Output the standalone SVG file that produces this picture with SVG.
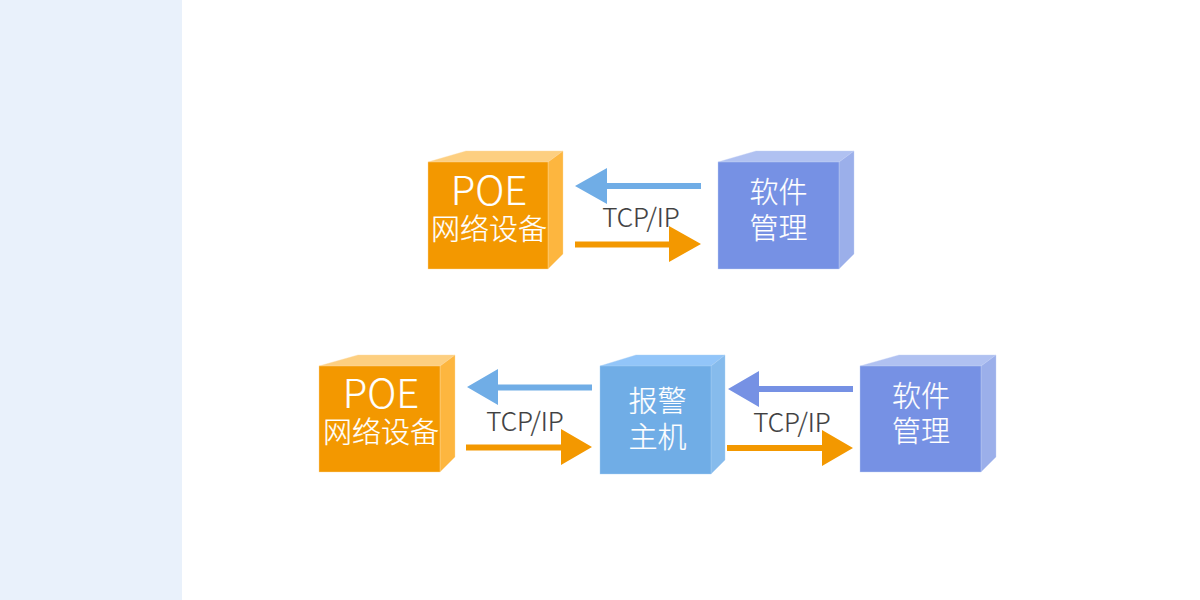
<svg xmlns="http://www.w3.org/2000/svg" width="1200" height="600" viewBox="0 0 1200 600">
<style>
.t{font-family:"Noto Sans CJK SC","Noto Sans",sans-serif;fill:#fff;stroke:#fff;stroke-width:.2;text-anchor:middle}
.big{font-size:40px;font-weight:300}
.cn{font-size:29px;font-weight:300}
.lbl{font-family:"Noto Sans CJK SC","Noto Sans",sans-serif;font-size:26px;font-weight:300;fill:#404040;stroke:#404040;stroke-width:.2;text-anchor:middle}
.o{stroke:#fdd9a0;stroke-width:.4}
.b{stroke:#c3d0f5;stroke-width:.4}
.h{stroke:#a9d0f6;stroke-width:.4}
</style>
<rect x="0" y="0" width="182" height="600" fill="#e9f1fb"/>
<g id="connectors">
<path fill="#70ade6" d="M701 183H607V168L575 186L607 204V189H701Z"/>
<path fill="#f39800" d="M575 241.500H669V226L701 244L669 262V247.500H575Z"/>
<path fill="#70ade6" d="M592 384.500H498V369L467 387L498 405V390.500H592Z"/>
<path fill="#f39800" d="M466 444.500H561V429L592 447L561 465V450.500H466Z"/>
<path fill="#7691e4" d="M853 386H759V371L728 389L759 407V392H853Z"/>
<path fill="#f39800" d="M727 445H822V430L853 448L822 466V451H727Z"/>
</g>
<g id="poe-1">
<path class="o" fill="#fdcf80" d="M428 162L466 151H563L548 162Z"/>
<path class="o" fill="#fdb63f" d="M548 162L563 151V254L548 269Z"/>
<rect class="o" x="428" y="162" width="120" height="107" fill="#f39800"/>
<text class="t big" x="489" y="205">POE</text>
<text class="t cn" x="489" y="240">网络设备</text>
</g>
<g id="software-1">
<path class="b" fill="#b0c1f1" d="M718 162L756 151H854L839 162Z"/>
<path class="b" fill="#9bafea" d="M839 162L854 151V254L839 269Z"/>
<rect class="b" x="718" y="162" width="121" height="107" fill="#7691e4"/>
<text class="t cn" x="778.500" y="203">软件</text>
<text class="t cn" x="778.500" y="239">管理</text>
</g>
<g id="poe-2">
<path class="o" fill="#fdcf80" d="M319 366L358 355H455L440 366Z"/>
<path class="o" fill="#fdb63f" d="M440 366L455 355V457L440 472Z"/>
<rect class="o" x="319" y="366" width="121" height="106" fill="#f39800"/>
<text class="t big" x="381" y="408">POE</text>
<text class="t cn" x="381" y="443">网络设备</text>
</g>
<g id="alarm-host">
<path class="h" fill="#92c5f9" d="M600 366L636 355H725L711 366Z"/>
<path class="h" fill="#86bbec" d="M711 366L725 355V460L711 474Z"/>
<rect class="h" x="600" y="366" width="111" height="108" fill="#70ade6"/>
<text class="t cn" x="657.500" y="412">报警</text>
<text class="t cn" x="657.500" y="448">主机</text>
</g>
<g id="software-2">
<path class="b" fill="#b0c1f1" d="M860 366L899 355H996L981 366Z"/>
<path class="b" fill="#9bafea" d="M981 366L996 355V457L981 472Z"/>
<rect class="b" x="860" y="366" width="121" height="106" fill="#7691e4"/>
<text class="t cn" x="921" y="407">软件</text>
<text class="t cn" x="921" y="442">管理</text>
</g>
<g id="labels">
<text class="lbl" x="641" y="227">TCP/IP</text>
<text class="lbl" x="525" y="431">TCP/IP</text>
<text class="lbl" x="792" y="432">TCP/IP</text>
</g>
</svg>
